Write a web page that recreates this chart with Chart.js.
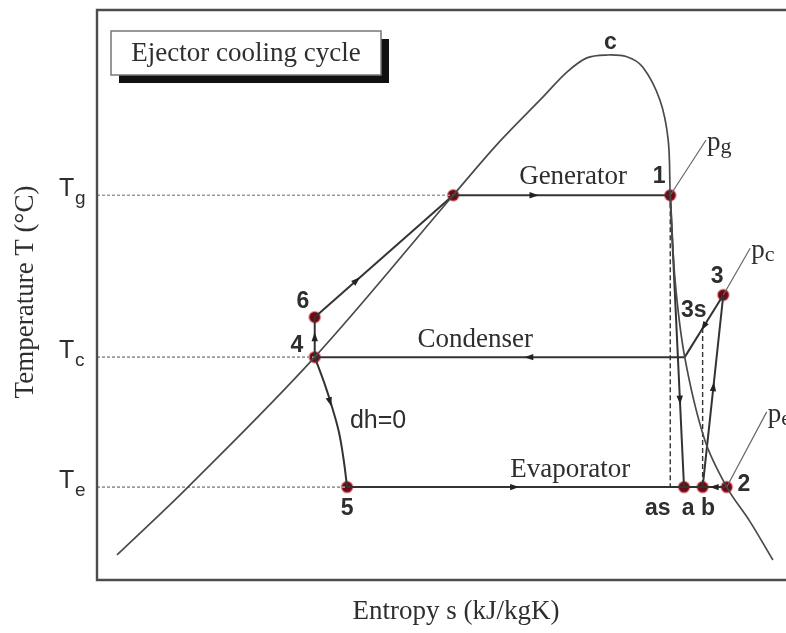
<!DOCTYPE html>
<html>
<head>
<meta charset="utf-8">
<script src="https://cdn.jsdelivr.net/npm/chart.js@4.4.1/dist/chart.umd.min.js"></script>
<style>
  body { margin: 0; background: #fff; }
  canvas { display: block; }
</style>
</head>
<body>
<canvas id="tsChart" width="786" height="633"></canvas>
<script>
// Saturation dome, entropy s vs temperature T (arbitrary units)
const domeS = [2.9, 13.2, 31.6, 51.7, 58.2, 64.7, 68.2, 71.1, 74.0, 76.9, 79.2, 81.7, 82.9, 83.2, 83.9, 85.3, 88.2, 91.4, 94.8, 98.1];
const domeT = [4.4, 16.3, 39.1, 67.5, 76.6, 84.7, 89.1, 91.6, 92.1, 91.8, 90.0, 84.2, 77.2, 67.5, 52.6, 39.1, 24.6, 16.3, 10.2, 3.5];

// Cycle states (f = saturated liquid at Tg, k = saturated vapour at Tc)
const stateNames = ['f', '1', '6', '4', '5', 'k', '3', '3s', 'as', 'a', 'b', '2'];
const stateS = [51.7, 83.2, 31.6, 31.6, 36.3, 85.3, 90.9, 87.9, 83.2, 85.2, 87.9, 91.4];
const stateT = [67.5, 67.5, 46.1, 39.1, 16.3, 39.1, 50.0, 44.2, 16.3, 16.3, 16.3, 16.3];

// Throttling 4 -> 5 (dh = 0)
const throttleS = [31.6, 33.1, 34.1, 35.1, 35.8, 36.3];
const throttleT = [39.1, 34.2, 30.4, 26.0, 21.1, 16.3];

// Temperature levels shown on the axis
const levelSubs = ['g', 'c', 'e'];
const levelT = [67.5, 39.1, 16.3];
const levelEnds = ['f', '4', '5'];

// Isobar tags p_g, p_c, p_e
const isobarSubs = ['g', 'c', 'e'];
const isobarFrom = ['1', '3', '2'];
const isobarEndS = [88.4, 94.8, 97.2];
const isobarEndT = [77.2, 58.2, 29.5];

const idx = n => stateNames.indexOf(n);
const pt = n => ({ x: stateS[idx(n)], y: stateT[idx(n)] });

const lineColor = '#333';
const datasets = [];

datasets.push({
    data: domeS.map((s, i) => ({ x: s, y: domeT[i] })),
    borderColor: '#4a4a4a', borderWidth: 1.7, tension: 0.35, pointRadius: 0
});

// process lines
const paths = [['f', '1'], ['4', '6'], ['6', 'f'], ['k', '4'], ['3', 'k'], ['1', 'a'], ['b', '3'], ['5', '2']];
paths.forEach(p => {
    datasets.push({ data: p.map(pt), borderColor: lineColor, borderWidth: 2, pointRadius: 0 });
});

datasets.push({
    data: throttleS.map((s, i) => ({ x: s, y: throttleT[i] })),
    borderColor: lineColor, borderWidth: 2, tension: 0.4, pointRadius: 0
});

// isentropic reference lines
[['1', 'as'], ['3s', 'b']].forEach(p => {
    datasets.push({ data: p.map(pt), borderColor: '#333', borderWidth: 1.4, borderDash: [5, 3], pointRadius: 0 });
});

// dotted level lines from the axis
levelT.forEach((t, i) => {
    datasets.push({
        data: [{ x: 0, y: t }, pt(levelEnds[i])],
        borderColor: '#9a9a9a', borderWidth: 1.6, borderDash: [3, 2], pointRadius: 0
    });
});

// isobar tag lines
isobarFrom.forEach((n, i) => {
    datasets.push({
        data: [pt(n), { x: isobarEndS[i], y: isobarEndT[i] }],
        borderColor: '#666', borderWidth: 1.2, pointRadius: 0
    });
});

// state markers
const markerNames = ['f', '1', '6', '4', '5', '3', 'a', 'b', '2'];
datasets.push({
    data: markerNames.map(pt),
    showLine: false,
    pointRadius: 5.5,
    pointBackgroundColor: '#6a0a16',
    pointBorderColor: 'rgba(205,60,60,0.45)',
    pointBorderWidth: 2
});

datasets.forEach(d => { if (d.showLine === undefined) d.showLine = true; });

// flow arrows: [from, to, fraction]
const arrows = [['f', '1', 0.37], ['4', '6', 0.5], ['6', 'f', 0.3], ['k', '4', 0.42], ['3', 'k', 0.5],
                ['1', 'a', 0.7], ['b', '3', 0.52], ['5', '2', 0.44], ['2', 'b', 0.5]];

// text notes in data coordinates
const notes = [
    { text: 'c', s: 74.5, t: 94.2, bold: true },
    { text: '1', s: 81.6, t: 70.7, bold: true },
    { text: '6', s: 29.9, t: 48.8, bold: true },
    { text: '4', s: 29.0, t: 41.2, bold: true },
    { text: '3s', s: 86.6, t: 47.2, bold: true },
    { text: '3', s: 90.0, t: 53.3, bold: true },
    { text: '5', s: 36.3, t: 12.6, bold: true },
    { text: 'as', s: 81.4, t: 12.6, bold: true },
    { text: 'a', s: 85.8, t: 12.6, bold: true },
    { text: 'b', s: 88.7, t: 12.6, bold: true },
    { text: '2', s: 93.9, t: 16.7, bold: true },
    { text: 'dh=0', s: 40.8, t: 27.9, sans: true },
    { text: 'Generator', s: 69.1, t: 70.7, serif: true },
    { text: 'Condenser', s: 54.9, t: 42.1, serif: true },
    { text: 'Evaporator', s: 68.7, t: 19.3, serif: true }
];

function drawArrow(ctx, x0, y0, x1, y1, f) {
    const x = x0 + (x1 - x0) * f, y = y0 + (y1 - y0) * f;
    const a = Math.atan2(y1 - y0, x1 - x0);
    ctx.save();
    ctx.translate(x, y);
    ctx.rotate(a);
    ctx.beginPath();
    ctx.moveTo(5, 0);
    ctx.lineTo(-4, -3.2);
    ctx.lineTo(-4, 3.2);
    ctx.closePath();
    ctx.fillStyle = '#222';
    ctx.fill();
    ctx.restore();
}

const decor = {
    id: 'decor',
    afterDatasetsDraw(chart) {
        const ctx = chart.ctx;
        const xs = chart.scales.x, ys = chart.scales.y;
        const X = s => xs.getPixelForValue(s), Y = t => ys.getPixelForValue(t);
        const area = chart.chartArea;

        // frame: left, top, bottom (right side runs off the picture)
        ctx.save();
        ctx.strokeStyle = '#4d4d4d';
        ctx.lineWidth = 2.4;
        ctx.beginPath();
        ctx.moveTo(area.right + 4, area.top);
        ctx.lineTo(area.left, area.top);
        ctx.lineTo(area.left, area.bottom);
        ctx.lineTo(area.right + 4, area.bottom);
        ctx.stroke();

        // arrows
        arrows.forEach(([a, b, f]) => {
            drawArrow(ctx, X(pt(a).x), Y(pt(a).y), X(pt(b).x), Y(pt(b).y), f);
        });
        drawArrow(ctx, X(throttleS[1]), Y(throttleT[1]), X(throttleS[3]), Y(throttleT[3]), 0.35);

        // y ticks T_g, T_c, T_e
        ctx.fillStyle = '#2e2e2e';
        ctx.textBaseline = 'middle';
        ctx.textAlign = 'left';
        levelT.forEach((t, i) => {
            const y = Y(t);
            ctx.font = '25px "Liberation Sans", Arial, sans-serif';
            ctx.fillText('T', 59, y - 6);
            ctx.font = '19px "Liberation Sans", Arial, sans-serif';
            ctx.fillText(levelSubs[i], 75, y + 4);
        });

        // isobar tags
        isobarSubs.forEach((sub, i) => {
            const x = X(isobarEndS[i]) + 1, y = Y(isobarEndT[i]) + 3;
            ctx.font = '27px "Liberation Serif", "Times New Roman", serif';
            ctx.fillText('p', x, y);
            const w = ctx.measureText('p').width;
            ctx.font = '22px "Liberation Serif", "Times New Roman", serif';
            ctx.fillText(sub, x + w, y + 4);
        });

        // notes
        ctx.textAlign = 'center';
        notes.forEach(n => {
            if (n.bold) ctx.font = 'bold 23px "Liberation Sans", Arial, sans-serif';
            else if (n.sans) ctx.font = '25px "Liberation Sans", Arial, sans-serif';
            else ctx.font = '27px "Liberation Serif", "Times New Roman", serif';
            ctx.fillText(n.text, X(n.s), Y(n.t));
        });

        // axis titles
        ctx.font = '27px "Liberation Serif", "Times New Roman", serif';
        ctx.fillText('Entropy s (kJ/kgK)', 456, 612);
        ctx.save();
        ctx.translate(26, 292);
        ctx.rotate(-Math.PI / 2);
        ctx.fillText('Temperature T (\u00B0C)', 0, 0);
        ctx.restore();

        // title box with shadow
        ctx.fillStyle = '#111';
        ctx.fillRect(119, 39, 270, 44);
        ctx.fillStyle = '#fff';
        ctx.fillRect(111, 31, 270, 44);
        ctx.strokeStyle = '#777';
        ctx.lineWidth = 1.5;
        ctx.strokeRect(111, 31, 270, 44);
        ctx.fillStyle = '#2e2e2e';
        ctx.font = '27px "Liberation Serif", "Times New Roman", serif';
        ctx.fillText('Ejector cooling cycle', 246, 54);
        ctx.restore();
    }
};

new Chart(document.getElementById('tsChart'), {
    type: 'scatter',
    data: { datasets: datasets },
    options: {
        responsive: false,
        animation: false,
        layout: { autoPadding: false, padding: { left: 97, top: 10, right: 0, bottom: 53 } },
        scales: {
            x: { type: 'linear', min: 0, max: 100, display: false },
            y: { type: 'linear', min: 0, max: 100, display: false }
        },
        plugins: { legend: { display: false }, tooltip: { enabled: false } }
    },
    plugins: [decor]
});
</script>
</body>
</html>
